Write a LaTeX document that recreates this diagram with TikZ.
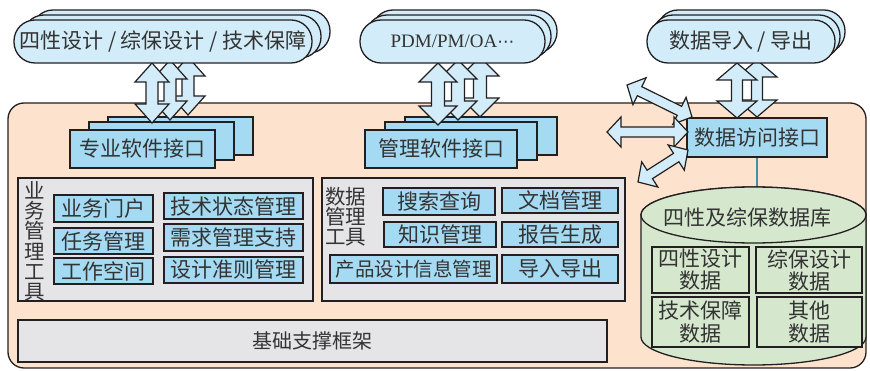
\documentclass[tikz,border=0pt]{standalone}
\usepackage{fontspec}
\setmainfont{Liberation Serif}
\newfontfamily\cjk{Noto Sans CJK SC}
\newfontfamily\djv{DejaVu Sans}
\definecolor{pillblue}{HTML}{D2EDF9}
\definecolor{boxblue}{HTML}{A5DAF3}
\definecolor{peach}{HTML}{FDE3CD}
\definecolor{panelgray}{HTML}{E5E5E7}
\definecolor{dbgreen}{HTML}{D5E8CE}
\definecolor{ink}{HTML}{231F20}
\definecolor{tealline}{HTML}{3A93A6}
\definecolor{txt}{HTML}{333333}
\tikzset{
  pill/.style={draw=ink, line width=1.3pt, fill=pillblue, rounded corners=21pt, inner sep=0pt},
  ibox/.style={draw=ink, line width=1.4pt, fill=boxblue, inner sep=0pt},
  inbox/.style={draw=ink, line width=1.8pt, fill=boxblue, inner sep=0pt},
  gpanel/.style={draw=ink, line width=1.3pt, fill=panelgray},
  gbox/.style={draw=ink, line width=1.6pt, fill=dbgreen, inner sep=0pt, align=center},
  barr/.style={draw=ink, line width=1.2pt, fill=pillblue, line join=miter},
  lbl/.style={font=\cjk\fontsize{21}{23}\selectfont, text=txt},
}
\newcommand\blockarr[7]{%
  \pgfmathsetmacro\baDX{#3-#1}%
  \pgfmathsetmacro\baDY{#4-#2}%
  \pgfmathsetmacro\baL{veclen(\baDX,\baDY)}%
  \pgfmathsetmacro\baA{atan2(-\baDY,\baDX)}%
  \pgfmathsetmacro\baM{\baL-#6}%
  \begin{scope}[shift={(#1,#2)},rotate=\baA]
    \draw[barr] (0,0) -- (#6,#5) -- (#6,#7) -- (\baM,#7) -- (\baM,#5) -- (\baL,0)
      -- (\baM,-#5) -- (\baM,-#7) -- (#6,-#7) -- (#6,-#5) -- cycle;
  \end{scope}}
\begin{document}
\begin{tikzpicture}[x=1pt,y=-1pt]
\useasboundingbox (0,0) rectangle (870,371);
% main panel
\draw[draw=ink, line width=1.3pt, fill=peach, rounded corners=16pt] (8,103) rectangle (866,368);

% interface boxes (stacked)
\node[ibox, minimum width=145pt, minimum height=38pt] at (180.5,136) {};
\node[ibox, minimum width=145pt, minimum height=38pt] at (161.5,141) {};
\node[ibox, lbl, minimum width=145pt, minimum height=38pt] (zyrj) at (142.5,149) {专业软件接口};

\node[ibox, minimum width=152pt, minimum height=38pt] at (481,136) {};
\node[ibox, minimum width=152pt, minimum height=38pt] at (461,141) {};
\node[ibox, lbl, minimum width=152pt, minimum height=38pt] (glrj) at (441,149) {管理软件接口};

\node[ibox, lbl, minimum width=140pt, minimum height=39pt] (sjfw) at (757,137.5) {数据访问接口};

% grey panels
\draw[gpanel] (18,178) rectangle (313,301);
\draw[gpanel] (322,178) rectangle (625,301);
\node[gpanel, lbl, minimum width=589pt, minimum height=42pt, inner sep=0pt, font=\cjk\fontsize{20}{22}\selectfont] (jczc) at (312.5,341) {基础支撑框架};

% left panel content
\node[lbl, anchor=north, align=center, inner sep=0pt, font=\cjk\fontsize{20.5}{20.3}\selectfont] (ywgl) at (35,181) {业\\务\\管\\理\\工\\具};
\node[inbox, lbl, minimum width=99pt, minimum height=27pt] (ywmh) at (103.5,208.5) {业务门户};
\node[inbox, lbl, minimum width=99pt, minimum height=26pt] (rwgl) at (103.5,241) {任务管理};
\node[inbox, lbl, minimum width=99pt, minimum height=26pt] (gzkj) at (103.5,271) {工作空间};
\node[inbox, lbl, minimum width=139pt, minimum height=26pt] (jszt) at (233.5,206) {技术状态管理};
\node[inbox, lbl, minimum width=139pt, minimum height=27pt] (xqgl) at (233.5,237.5) {需求管理支持};
\node[inbox, lbl, minimum width=139pt, minimum height=26pt] (sjzz) at (233.5,270) {设计准则管理};

% middle panel content
\node[lbl, anchor=north west, align=left, inner sep=0pt, font=\cjk\fontsize{20.5}{20}\selectfont] (sjgl) at (325,187) {数据\\管理\\工具};
\node[inbox, lbl, minimum width=112pt, minimum height=27pt] (sscx) at (439,201.5) {搜索查询};
\node[inbox, lbl, minimum width=112pt, minimum height=25pt] (zsgl) at (440,234.5) {知识管理};
\node[inbox, lbl, minimum width=167pt, minimum height=28pt, font=\cjk\fontsize{19.5}{21}\selectfont] (cpsj) at (413.5,269) {产品设计信息管理};
\node[inbox, lbl, minimum width=116pt, minimum height=25pt] (wdgl) at (560,200.5) {文档管理};
\node[inbox, lbl, minimum width=116pt, minimum height=25pt] (bgsc) at (560,234.5) {报告生成};
\node[inbox, lbl, minimum width=116pt, minimum height=28pt] (drdc) at (560,269) {导入导出};

% database cylinder
\coordinate (cyltop) at (757,187);
\draw[tealline, line width=1.2pt] (sjfw.south) -- (cyltop);
\draw[draw=ink, line width=1.3pt, fill=dbgreen]
  (641,215) -- (641,337) arc[start angle=180, end angle=360, x radius=112.5pt, y radius=28pt]
  -- (866,215) arc[start angle=0, end angle=180, x radius=112.5pt, y radius=28pt] -- cycle;
\draw[draw=ink, line width=1.3pt, fill=dbgreen] (753.5,215) ellipse[x radius=112.5pt, y radius=28pt];
\node[lbl, inner sep=0pt] (dbname) at (747,218) {四性及综保数据库};
\node[gbox, lbl, minimum width=97pt, minimum height=46pt, font=\cjk\fontsize{21}{22}\selectfont] (db1) at (700.5,270) {四性设计\\数据};
\node[gbox, lbl, minimum width=106pt, minimum height=46pt, font=\cjk\fontsize{21}{22}\selectfont] (db2) at (809,270) {综保设计\\数据};
\node[gbox, lbl, minimum width=97pt, minimum height=50pt, font=\cjk\fontsize{21}{23}\selectfont] (db3) at (700.5,322) {技术保障\\数据};
\node[gbox, lbl, minimum width=105pt, minimum height=50pt, font=\cjk\fontsize{21}{23}\selectfont] (db4) at (809.5,322) {其他\\数据};

% vertical block arrows
\blockarr{188}{57}{188}{115}{17}{19}{6}
\blockarr{170}{60}{170}{120}{17}{19}{6}
\blockarr{152}{63}{152}{123}{17}{19}{6}
\blockarr{480}{57}{480}{117}{19}{19}{6.5}
\blockarr{458}{60}{458}{120}{19}{19}{6.5}
\blockarr{438}{63}{438}{125}{19}{19}{6.5}
\blockarr{757}{60}{757}{117}{20}{17}{5.5}
\blockarr{737}{63}{737}{118}{20}{17}{5.5}
% diagonal block arrows
\blockarr{627}{85}{692}{117}{15}{14}{5}
\blockarr{607}{132}{688}{132}{15}{14}{5}
\blockarr{638}{182}{688}{150}{15}{14}{5}

% top pills
\node[pill, minimum width=298pt, minimum height=43pt] at (181,31.5) {};
\node[pill, minimum width=298pt, minimum height=43pt] at (172,36.5) {};
\node[pill, lbl, minimum width=298pt, minimum height=43pt] (sx) at (163,41.5) {四性设计 / 综保设计 / 技术保障};

\node[pill, minimum width=185pt, minimum height=43pt] at (464.5,31.5) {};
\node[pill, minimum width=185pt, minimum height=43pt] at (458.5,36.5) {};
\node[pill, minimum width=185pt, minimum height=43pt, text=txt, font=\fontsize{19}{21}\selectfont] (pdm) at (452.5,41.5) {PDM/PM/OA{\djv\fontsize{17}{19}\selectfont ⋯}};

\node[pill, minimum width=188pt, minimum height=43pt] at (751,31.5) {};
\node[pill, minimum width=188pt, minimum height=43pt] at (746,36.5) {};
\node[pill, lbl, minimum width=188pt, minimum height=43pt] (sjdr) at (741,41.5) {数据导入 / 导出};
\end{tikzpicture}
\end{document}
